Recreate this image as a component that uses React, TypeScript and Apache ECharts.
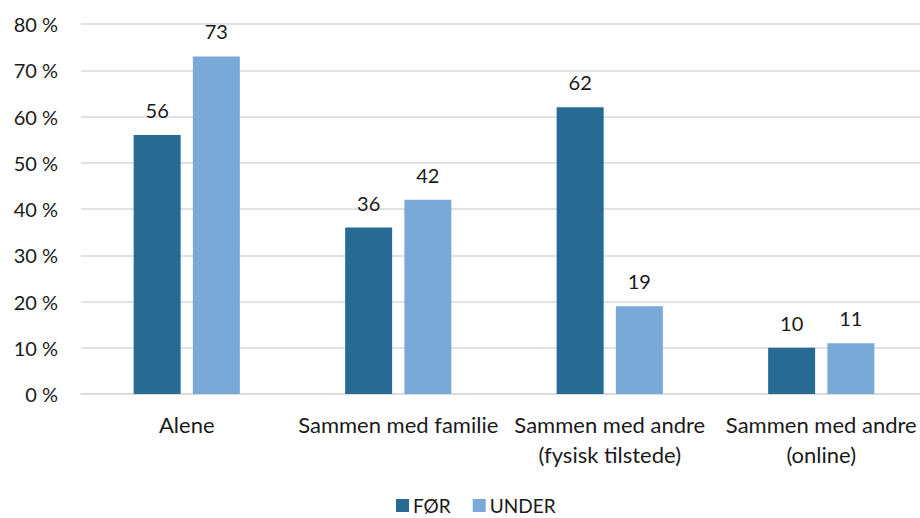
import React, { useEffect, useRef } from "react";
import * as echarts from "echarts";

const categories = [
  "Alene",
  "Sammen med familie",
  "Sammen med andre\n(fysisk tilstede)",
  "Sammen med andre\n(online)",
];
const seriesNames = ["FØR", "UNDER"];
const forValues = [56, 36, 62, 10];
const underValues = [73, 42, 19, 11];
const yTicks = [0, 10, 20, 30, 40, 50, 60, 70, 80];

const FONT = "Lato, 'Open Sans', sans-serif";

export default function App() {
  const ref = useRef<HTMLDivElement>(null);
  useEffect(() => {
    if (!ref.current) return;
    const chart = echarts.init(ref.current, undefined, { renderer: "svg" });
    const labelStyle = {
      show: true,
      position: "top" as const,
      distance: 15,
      fontSize: 20,
      color: "#1a1a1a",
      fontFamily: FONT,
    };
    chart.setOption({
      animation: false,
      textStyle: { fontFamily: FONT },
      grid: { left: 81, top: 24, width: 846, height: 370, containLabel: false },
      legend: {
        top: 496,
        left: 396,
        padding: 0,
        itemWidth: 13,
        itemHeight: 13,
        itemGap: 22,
        icon: "rect",
        textStyle: { fontSize: 19, lineHeight: 19, color: "#1a1a1a", fontFamily: FONT, padding: [0, 0, 0, -1] },
        data: seriesNames,
      },
      xAxis: {
        type: "category",
        data: categories,
        axisLine: { show: true, lineStyle: { color: "#d9d9d9", width: 1.5 } },
        axisTick: { show: false },
        axisLabel: {
          interval: 0,
          fontSize: 22,
          color: "#1a1a1a",
          margin: 15,
          lineHeight: 30,
          fontFamily: FONT,
        },
      },
      yAxis: {
        type: "value",
        min: yTicks[0],
        max: yTicks[yTicks.length - 1],
        interval: 10,
        axisLine: { show: false },
        axisTick: { show: false },
        splitLine: { lineStyle: { color: "#d9d9d9", width: 1.5 } },
        axisLabel: {
          fontSize: 20,
          color: "#1a1a1a",
          margin: 23,
          fontFamily: FONT,
          formatter: (v: number) => `${v} %`,
        },
      },
      series: [
        {
          name: seriesNames[0],
          type: "bar",
          data: forValues,
          barWidth: 47,
          barGap: "26%",
          itemStyle: { color: "#276a93" },
          label: labelStyle,
        },
        {
          name: seriesNames[1],
          type: "bar",
          data: underValues,
          barWidth: 47,
          barGap: "26%",
          itemStyle: { color: "#78a9d7" },
          label: labelStyle,
        },
      ],
    });
    return () => chart.dispose();
  }, []);
  return (
    <div style={{ position: "absolute", left: 0, top: 0, width: 920, height: 518, overflow: "hidden" }}>
      <div ref={ref} style={{ width: 940, height: 518 }} />
    </div>
  );
}
